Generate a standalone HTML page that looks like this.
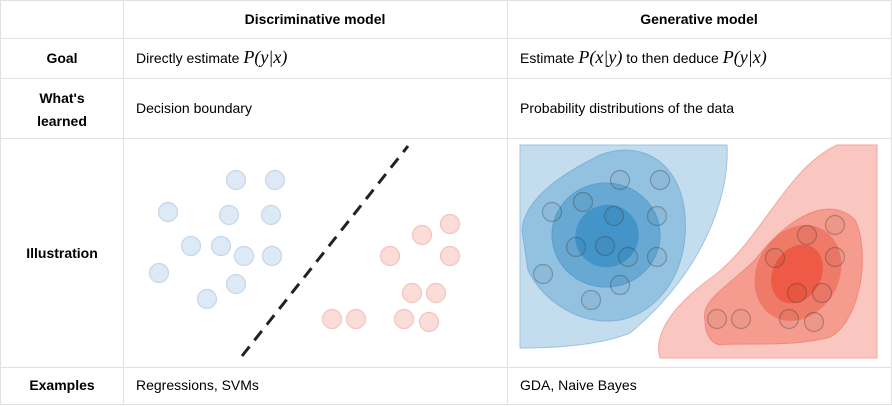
<!DOCTYPE html>
<html><head><meta charset="utf-8"><style>
body{margin:0;background:#fff;font-family:"Liberation Sans",sans-serif;color:#24292e}
svg{display:block}
.t{font-size:14px}
.b{font-weight:bold}
.m{font-family:"Liberation Serif",serif;font-style:italic;font-size:18px}
</style></head><body>
<svg width="892" height="406">
<rect x="0" y="0" width="892" height="38" fill="#fff"/>
<g stroke="#dfe2e5" stroke-width="1" fill="none">
<line x1="0" y1="0.5" x2="892" y2="0.5"/><line x1="0" y1="38.5" x2="892" y2="38.5"/>
<line x1="0" y1="78.5" x2="892" y2="78.5"/><line x1="0" y1="138.5" x2="892" y2="138.5"/>
<line x1="0" y1="367.5" x2="892" y2="367.5"/><line x1="0" y1="404.5" x2="892" y2="404.5"/>
<line x1="0.5" y1="0" x2="0.5" y2="405"/><line x1="123.5" y1="0" x2="123.5" y2="405"/>
<line x1="507.5" y1="0" x2="507.5" y2="405"/><line x1="891.5" y1="0" x2="891.5" y2="405"/>
</g>
<text x="315" y="24" text-anchor="middle" class="t b">Discriminative model</text>
<text x="699" y="24" text-anchor="middle" class="t b">Generative model</text>
<text x="62" y="63" text-anchor="middle" class="t b">Goal</text>
<text x="62" y="103" text-anchor="middle" class="t b">What's</text>
<text x="62" y="126" text-anchor="middle" class="t b">learned</text>
<text x="62" y="258" text-anchor="middle" class="t b">Illustration</text>
<text x="62" y="390" text-anchor="middle" class="t b">Examples</text>
<text x="136" y="63" class="t">Directly estimate <tspan class="m">P</tspan><tspan class="m" font-style="normal">(</tspan><tspan class="m">y</tspan><tspan class="m" font-style="normal">|</tspan><tspan class="m">x</tspan><tspan class="m" font-style="normal">)</tspan></text>
<text x="520" y="63" class="t">Estimate <tspan class="m">P</tspan><tspan class="m" font-style="normal">(</tspan><tspan class="m">x</tspan><tspan class="m" font-style="normal">|</tspan><tspan class="m">y</tspan><tspan class="m" font-style="normal">)</tspan> to then deduce <tspan class="m">P</tspan><tspan class="m" font-style="normal">(</tspan><tspan class="m">y</tspan><tspan class="m" font-style="normal">|</tspan><tspan class="m">x</tspan><tspan class="m" font-style="normal">)</tspan></text>
<text x="136" y="113" class="t">Decision boundary</text>
<text x="520" y="113" class="t">Probability distributions of the data</text>
<text x="136" y="390" class="t">Regressions, SVMs</text>
<text x="520" y="390" class="t">GDA, Naive Bayes</text>
<line x1="242" y1="356" x2="408" y2="146" stroke="#222" stroke-width="3" stroke-dasharray="12,8"/>
<g id="disc"></g>
<g>
<path d="M520,145 L727,145 C730,200 700,275 630,333 C600,345 560,348 520,348 Z" fill="#c3dcee" stroke="#9cc5e3"/>
<path d="M522,230 C525,195 570,170 600,155 C640,140 680,160 685,215 C690,280 650,320 610,321 C570,322 540,295 528,270 Z" fill="#93c1e0" stroke="#7fb3d8"/>
<ellipse cx="606" cy="235" rx="54" ry="52" fill="#67a9d3" stroke="#5aa0cf"/>
<ellipse cx="607" cy="236" rx="32" ry="31" transform="rotate(-30 607 236)" fill="#4394c9"/>
<path d="M837,145 L877,145 L877,358 L660,358 C652,330 680,300 715,275 C765,235 785,170 837,145 Z" fill="#f9c6c0" stroke="#f4a79c"/>
<path d="M705,320 C700,300 730,285 755,260 C790,215 830,195 855,220 C870,250 862,320 830,337 C790,348 740,342 720,345 C708,342 705,330 705,320 Z" fill="#f59c8e" stroke="#f08a7b"/>
<ellipse cx="798" cy="273" rx="41" ry="50" transform="rotate(30 798 273)" fill="#f07a68"/>
<ellipse cx="797" cy="274" rx="24" ry="31" transform="rotate(30 797 274)" fill="#ee5a45"/>
</g>
<g id="gen"></g>
</svg>
<script>
const discBlueX=[236,275,168,229,271,191,221,244,272,159,236,207];
const discBlueY=[180,180,212,215,215,246,246,256,256,273,284,299];
const discRedX=[450,422,390,450,412,436,332,356,404,429];
const discRedY=[224,235,256,256,293,293,319,319,319,322];
const genBlueX=[620,660,552,583,614,657,576,605,628,657,543,620,591];
const genBlueY=[180,180,212,202,216,216,247,246,257,257,274,285,300];
const genRedX=[835,807,775,835,797,822,717,741,789,814];
const genRedY=[225,235,258,257,293,293,319,319,319,322];
const NS='http://www.w3.org/2000/svg';
function dots(g,xs,ys,fill,stroke,name){
  xs.forEach((x,i)=>{const c=document.createElementNS(NS,'circle');
    c.setAttribute('cx',x);c.setAttribute('cy',ys[i]);c.setAttribute('r',9.5);
    c.setAttribute('fill',fill);c.setAttribute('stroke',stroke);c.setAttribute('stroke-width',1.2);
    
    
    g.appendChild(c);});
}
const d=document.getElementById('disc'),g=document.getElementById('gen');
dots(d,discBlueX,discBlueY,'#dde9f4','#c5d8ea','blue-point');
dots(d,discRedX,discRedY,'#fbdcd8','#f3c4be','red-point');
dots(g,genBlueX,genBlueY,'rgba(0,0,0,0.03)','rgba(60,60,60,0.35)','blue-point');
dots(g,genRedX,genRedY,'rgba(0,0,0,0.03)','rgba(60,60,60,0.35)','red-point');
</script>
</body></html>
